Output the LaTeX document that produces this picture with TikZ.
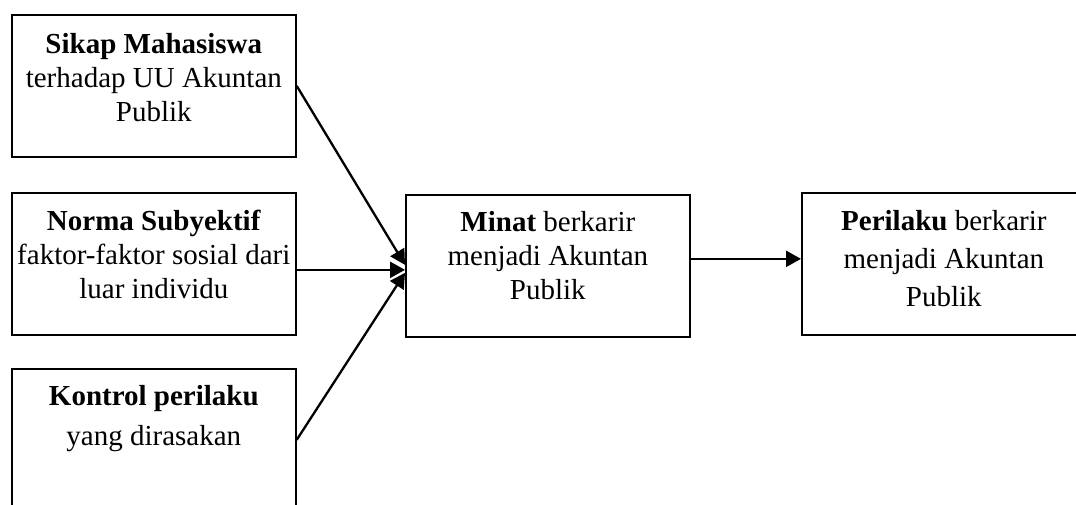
\documentclass[tikz,border=0pt]{standalone}
\usepackage{fontspec}
\setmainfont{Liberation Serif}
\usetikzlibrary{arrows.meta}

% isi kotak: tinggi baris pertama, jarak baris, teks
\newcommand{\isikotak}[3]{\parbox[t][142pt][t]{284pt}{\centering\fontsize{29}{#2}\selectfont\rule{0pt}{#1}#3}}

\begin{document}
\begin{tikzpicture}[x=1pt,y=-1pt]
        \tikzstyle{kotak} = [draw,line width=1.7pt,inner sep=0pt,anchor=north west]
        \tikzstyle{panah} = [line width=2.3pt,-{Triangle[length=15pt,width=16pt]}]

        \useasboundingbox (0,0) rectangle (1076,504);
        \clip (0,0) rectangle (1076,504);

        \node[kotak] (sikap) at (11,14){\isikotak{39pt}{34pt}{\textbf{Sikap Mahasiswa}\\ terhadap UU Akuntan\\ Publik}};
        \node[kotak] (norma) at (11,192){\isikotak{38pt}{34pt}{\textbf{Norma Subyektif}\\ faktor-faktor sosial dari\\ luar individu}};
        \node[kotak] (kontrol) at (11,368){\isikotak{37pt}{40pt}{\textbf{Kontrol perilaku}\\ yang dirasakan}};
        \node[kotak] (minat) at (405,194){\isikotak{37pt}{34pt}{\textbf{Minat} berkarir\\ menjadi Akuntan\\ Publik}};
        \node[kotak] (perilaku) at (801,192){\isikotak{38pt}{38pt}{\textbf{Perilaku} berkarir\\ menjadi Akuntan\\ Publik}};

        \coordinate (n2) at ([yshift=-6pt]norma.east);
        \coordinate (m2) at ([yshift=7pt]minat.east);

        %\draw[->] (sikap) -- (minat);
        \draw[panah] (sikap.east) -- ([yshift=1pt]minat.west);
        \draw[panah] (n2) -- (n2 -| minat.west);
        \draw[panah] (kontrol.east) -- ([yshift=-7pt]minat.west);
        \draw[panah] (m2) -- (m2 -| perilaku.west);

    \end{tikzpicture}
\end{document}
